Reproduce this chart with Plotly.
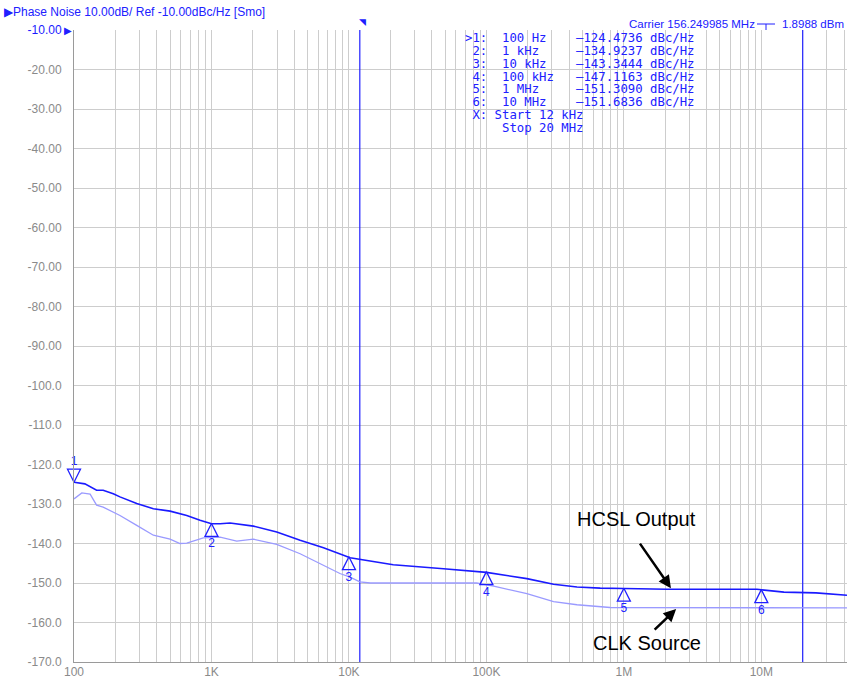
import plotly.graph_objects as go
import numpy as np

# ---------------- data ----------------
hcsl_freq = [100, 120, 146, 163, 193, 216, 286, 378, 500, 661, 826, 1000, 1156, 1366, 2018, 2985,
             4416, 6530, 10200, 14300, 21000, 48800, 100000, 197000, 308000, 456000, 673000,
             1e6, 2.06e6, 9.3e6, 14.6e6, 25e6, 42e6]
hcsl_val = [-124.5, -124.9, -126.5, -126.5, -127.4, -128.2, -129.9, -131.2, -131.8, -132.9, -134.1,
            -135.0, -135.0, -134.8, -135.6, -137.1, -139.2, -141.1, -143.6, -144.4, -145.4, -146.4,
            -147.3, -148.9, -150.3, -151.0, -151.3, -151.4, -151.6, -151.6, -152.3, -152.5, -153.1]

clk_freq = [100, 114, 131, 146, 163, 216, 286, 378, 500, 590, 661, 873, 1156, 1527, 2018, 2985,
            4416, 6530, 8600, 10200, 12000, 14300, 85000, 113000, 197000, 308000, 456000, 794000,
            42e6]
clk_val = [-128.7, -127.2, -127.5, -130.3, -130.8, -132.9, -135.4, -137.9, -138.9, -140.0, -139.9,
           -138.6, -138.4, -139.4, -138.9, -140.2, -142.6, -145.6, -147.6, -148.5, -149.7, -150.0,
           -150.0, -150.8, -152.7, -154.7, -155.5, -156.2, -156.3]

marker_names = ["1", "2", "3", "4", "5", "6"]
marker_freq = [100, 1e3, 1e4, 1e5, 1e6, 1e7]
marker_val = [-124.4736, -134.9237, -143.3444, -147.1163, -151.3090, -151.6836]

span_freq = [12000, 20e6]  # integration start / stop

table_lines = [
    ">1:  100 Hz    –124.4736 dBc/Hz",
    " 2:  1 kHz     –134.9237 dBc/Hz",
    " 3:  10 kHz    –143.3444 dBc/Hz",
    " 4:  100 kHz   –147.1163 dBc/Hz",
    " 5:  1 MHz     –151.3090 dBc/Hz",
    " 6:  10 MHz    –151.6836 dBc/Hz",
    " X: Start 12 kHz",
    "     Stop 20 MHz",
]

y_tickvals = [-10, -20, -30, -40, -50, -60, -70, -80, -90, -100, -110, -120, -130, -140, -150, -160, -170]
y_ticktext = ["<span style='color:#1a1aff'>-10.00</span>", "-20.00", "-30.00", "-40.00", "-50.00",
              "-60.00", "-70.00", "-80.00", "-90.00", "-100.0", "-110.0", "-120.0", "-130.0",
              "-140.0", "-150.0", "-160.0", "-170.0"]
x_decades = [100, 1e3, 1e4, 1e5, 1e6, 1e7]
x_decade_labels = ["100", "1K", "10K", "100K", "1M", "10M"]

# ---------------- figure ----------------
BLUE = "#1a1aff"
LIGHT = "#9a9aff"
GRID = "#cdcdcd"
LABEL = "#8a8a8a"
MK = "#2020ff"

W, H = 848, 679
ML, MR, MT, MB = 74, 1, 30, 17
PW, PH = W - ML - MR, H - MT - MB
X_MAX = 4.2e7
Y_MIN, Y_MAX = -170, -10

fig = go.Figure()

x_tickvals = []
x_ticktext = []
for d, lab in zip(x_decades + [1e8], x_decade_labels + [""]):
    for m in range(1, 10):
        v = d * m
        if v > X_MAX:
            break
        x_tickvals.append(v)
        x_ticktext.append(lab if m == 1 else "")

for f in span_freq:
    fig.add_trace(go.Scatter(x=[f, f], y=[Y_MIN, Y_MAX + 2.2], mode="lines",
                             line=dict(color=MK, width=1.2), cliponaxis=False,
                             showlegend=False, hoverinfo="skip"))

fig.add_trace(go.Scatter(x=clk_freq, y=clk_val, mode="lines", name="CLK Source",
                         line=dict(color=LIGHT, width=1.3), showlegend=False))
fig.add_trace(go.Scatter(x=hcsl_freq, y=hcsl_val, mode="lines", name="HCSL Output",
                         line=dict(color=BLUE, width=1.6), showlegend=False))

sym = ["arrow-down-open"] + ["arrow-up-open"] * 5
toff = [5.0] + [-5.3] * 5
fig.add_trace(go.Scatter(x=marker_freq, y=marker_val, mode="markers",
                         marker=dict(symbol=sym, size=13, color=MK, line=dict(width=1.3, color=MK)),
                         cliponaxis=False, showlegend=False, hoverinfo="skip"))
fig.add_trace(go.Scatter(x=marker_freq, y=[v + o for v, o in zip(marker_val, toff)], mode="text",
                         text=marker_names, textfont=dict(family="Liberation Sans", size=12, color=MK),
                         cliponaxis=False, showlegend=False, hoverinfo="skip"))

fig.add_trace(go.Scatter(x=x_decades, y=[Y_MIN - 1.3] * len(x_decades), mode="markers",
                         marker=dict(symbol=["triangle-up"] + ["triangle-up-open"] * 5, size=10,
                                     color=MK, line=dict(width=1.2, color=MK)),
                         cliponaxis=False, showlegend=False, hoverinfo="skip"))

fig.update_xaxes(type="log", range=[np.log10(100), np.log10(X_MAX)],
                 tickvals=x_tickvals, ticktext=x_ticktext, showgrid=True, gridcolor=GRID, gridwidth=1,
                 showline=True, linecolor="#9a9a9a", linewidth=1, zeroline=False, ticks="",
                 tickfont=dict(family="Liberation Sans", size=12, color=LABEL), ticklabelstandoff=-1)
fig.update_yaxes(range=[Y_MIN, Y_MAX], tickvals=y_tickvals, ticktext=y_ticktext, showgrid=True,
                 gridcolor=GRID, gridwidth=1, showline=True, linecolor="#9a9a9a", linewidth=1,
                 zeroline=False, ticks="", ticklabelstandoff=9,
                 tickfont=dict(family="Liberation Sans", size=12, color=LABEL))

def px2paper(px, py):
    return (px - ML) / PW, 1 - (py - MT) / PH

ann = []
ann.append(dict(xref="paper", yref="paper", x=px2paper(2, 0)[0], y=px2paper(0, 12)[1], xanchor="left",
                yanchor="middle", showarrow=False,
                text="▶Phase Noise 10.00dB/ Ref -10.00dBc/Hz [Smo]",
                font=dict(family="Liberation Sans", size=12, color=MK)))
ann.append(dict(xref="paper", yref="paper", x=px2paper(627, 0)[0], y=px2paper(0, 24)[1], xanchor="left",
                yanchor="middle", showarrow=False, text="Carrier 156.249985 MHz",
                font=dict(family="Liberation Sans", size=11.5, color=MK)))
ann.append(dict(xref="paper", yref="paper", x=px2paper(846, 0)[0], y=px2paper(0, 24)[1], xanchor="right",
                yanchor="middle", showarrow=False, text="1.8988 dBm",
                font=dict(family="Liberation Sans", size=11.5, color=MK)))
ann.append(dict(xref="paper", yref="y", x=0, y=Y_MAX, xanchor="right", yanchor="middle", showarrow=False,
                text="▶", font=dict(size=10, color=MK)))
ann.append(dict(xref="x", yref="paper", x=np.log10(span_freq[0]), y=1.0, xanchor="center", yanchor="bottom",
                showarrow=False, text="◥", font=dict(size=9, color=MK), xshift=3))

for i, line in enumerate(table_lines):
    xp, yp = px2paper(463, 38 + i * 12.85)
    ann.append(dict(xref="paper", yref="paper", x=xp, y=yp, xanchor="left", yanchor="middle",
                    showarrow=False, text=line.replace(" ", "\u00a0"),
                    font=dict(family="DejaVu Sans Mono", size=12.3, color=MK)))

ann.append(dict(x=np.log10(2.2e6), y=-151.3, xref="x", yref="y", ax=-32, ay=-46, showarrow=True,
                arrowhead=2, arrowsize=1, arrowwidth=2.5, arrowcolor="black", text=""))
xp, yp = px2paper(636, 519)
ann.append(dict(xref="paper", yref="paper", x=xp, y=yp, xanchor="center", yanchor="middle", showarrow=False,
                text="HCSL Output", font=dict(family="Liberation Sans", size=20, color="black")))
ann.append(dict(x=np.log10(2.4e6), y=-156.6, xref="x", yref="y", ax=-23, ay=22, showarrow=True,
                arrowhead=2, arrowsize=1, arrowwidth=2.5, arrowcolor="black", text=""))
xp, yp = px2paper(647, 643)
ann.append(dict(xref="paper", yref="paper", x=xp, y=yp, xanchor="center", yanchor="middle", showarrow=False,
                text="CLK Source", font=dict(family="Liberation Sans", size=20, color="black")))

fig.update_layout(width=W, height=H, margin=dict(l=ML, r=MR, t=MT, b=MB),
                  plot_bgcolor="white", paper_bgcolor="white", annotations=ann,
                  shapes=[dict(type="line", xref="paper", yref="paper",
                               x0=px2paper(757, 0)[0], x1=px2paper(775, 0)[0],
                               y0=px2paper(0, 24)[1], y1=px2paper(0, 24)[1],
                               line=dict(color=MK, width=1)),
                          dict(type="line", xref="paper", yref="paper",
                               x0=px2paper(766, 0)[0], x1=px2paper(766, 0)[0],
                               y0=px2paper(0, 24)[1], y1=px2paper(0, 30)[1],
                               line=dict(color=MK, width=1))])

fig.write_html("out.html", config={"displayModeBar": False},
               post_script="document.body.style.margin='0';document.body.style.overflow='hidden';")
